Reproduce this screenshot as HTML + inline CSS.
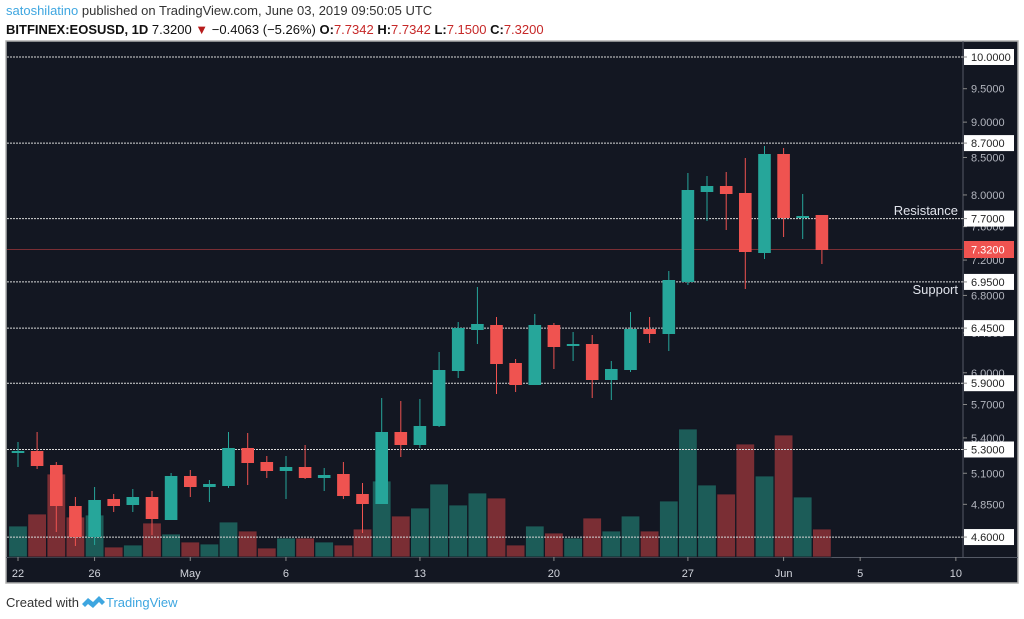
<!DOCTYPE html>
<html><head><meta charset="utf-8"><style>
body{margin:0;background:#fff;width:1024px;height:619px;overflow:hidden;font-family:"Liberation Sans",sans-serif}
svg{position:absolute;left:0;top:0}
</style></head><body>
<svg id="s" width="1024" height="619" xmlns="http://www.w3.org/2000/svg" font-family="Liberation Sans, sans-serif">
<text x="6" y="15" font-size="13" fill="#333"><tspan fill="#3ea6e0">satoshilatino</tspan> published on TradingView.com, June 03, 2019 09:50:05 UTC</text>
<text x="6" y="34" font-size="13" fill="#111"><tspan font-weight="bold">BITFINEX:EOSUSD, 1D</tspan> 7.3200 <tspan fill="#b71c1c">▼</tspan> −0.4063 (−5.26%) <tspan font-weight="bold">O:</tspan><tspan fill="#c62828">7.7342</tspan> <tspan font-weight="bold">H:</tspan><tspan fill="#c62828">7.7342</tspan> <tspan font-weight="bold">L:</tspan><tspan fill="#c62828">7.1500</tspan> <tspan font-weight="bold">C:</tspan><tspan fill="#c62828">7.3200</tspan></text>
<rect x="6" y="41" width="1012" height="542" fill="#131722" stroke="#b0b0b0" stroke-width="1.5"/>
<line x1="963" y1="41" x2="963" y2="557" stroke="#555a66"/>
<line x1="6" y1="557.5" x2="1018" y2="557.5" stroke="#555a66"/>
<g id="g"></g>
<text x="6" y="607" font-size="13" fill="#333">Created with</text>
<path d="M82 604 l6 -6 l5 4 l6 -6 l6 6 l-3 3 l-3 -3 l-6 6 l-5 -4 l-3 3z" fill="#3ea6e0"/>
<text x="106" y="607" font-size="13" fill="#3ea6e0">TradingView</text>
</svg>
<script>
var g=document.getElementById('g'),h='';
function Y(p){return 57+(Math.log(10)-Math.log(p))*618.2;}
// volumes first
var C=[
['g',442,451,453,467,526],['r',432,451,466,469,514],['r',462,465,506,532,474],['r',497,506,537,546,517],['g',487,500,537,545,515],
['r',494,499,506,512,547],['g',489,497,505,512,545],['r',491,497,519,535,523],['g',473,476,520,520,534],['r',470,476,487,497,542],
['g',480,484,487,502,544],['g',432,448,486,488,522],['r',433,448,463,485,531],['r',456,462,471,478,548],['g',456,467,471,499,538],
['r',445,467,478,479,538],['g',468,475,478,491,542],['r',462,474,496,499,545],['r',483,494,504,533,529],['g',398,432,504,504,481],
['r',401,432,445,457,516],['g',399,426,445,448,508],['g',352,370,426,427,484],['g',322,328,371,378,505],['g',287,324,330,344,493],
['r',317,325,364,394,498],['r',359,363,385,392,545],['g',314,325,385,385,526],['r',323,325,347,369,533],['g',332,344,346,361,538],
['r',335,344,380,398,518],['g',361,369,380,400,531],['g',312,329,370,372,516],['r',317,329,334,343,531],['g',271,280,334,351,501],
['g',173,190,282,285,429],['g',176,186,192,221,485],['r',172,186,194,230,494],['r',158,193,252,289,444],['g',146,154,253,259,476],
['r',148,154,218,237,435],['g',194,216,218,239,497],['r',215,215,250,264,529]];
function X(i){return 18+i*19.14;}
C.forEach(function(c,i){var x=X(i);h+='<rect x="'+(x-9.3).toFixed(1)+'" y="'+c[5]+'" width="18.6" height="'+(557-c[5])+'" fill="'+(c[0]=='g'?'#1c5c58':'#7a2e34')+'" stroke="#131722" stroke-width="0.8"/>';});
// grid dotted lines
[10,8.7,7.7,6.95,6.45,5.9,5.3,4.6].forEach(function(p){var y=Y(p).toFixed(1);h+='<line x1="7" x2="963" y1="'+y+'" y2="'+y+'" stroke="#d8d8d8" stroke-width="1" stroke-dasharray="2,1"/>';});
h+='<line x1="7" x2="963" y1="249.5" y2="249.5" stroke="#7a2e34" stroke-width="1"/>';
C.forEach(function(c,i){var x=X(i),col=c[0]=='g'?'#26a69a':'#ef5350';
h+='<line x1="'+x.toFixed(1)+'" x2="'+x.toFixed(1)+'" y1="'+c[1]+'" y2="'+c[4]+'" stroke="'+col+'" stroke-width="1"/>';
h+='<rect x="'+(x-6.3).toFixed(1)+'" y="'+c[2]+'" width="12.6" height="'+Math.max(2,c[3]-c[2])+'" fill="'+col+'"/>';});
// axis labels
[9.5,9,8.5,8,7.6,7.2,6.8,6.4,6,5.7,5.4,5.1,4.85].forEach(function(p){var y=Y(p);h+='<line x1="963" x2="967" y1="'+y+'" y2="'+y+'" stroke="#888"/><text x="971" y="'+(y+4)+'" font-size="11" fill="#b2b5be">'+p.toFixed(4)+'</text>';});
[10,8.7,7.7,6.95,6.45,5.9,5.3,4.6].forEach(function(p){var y=Y(p);h+='<rect x="964" y="'+(y-8)+'" width="50" height="16" fill="#fff"/><line x1="963" x2="967" y1="'+y+'" y2="'+y+'" stroke="#888"/><text x="971" y="'+(y+4)+'" font-size="11" fill="#222">'+p.toFixed(4)+'</text>';});
h+='<rect x="964" y="241" width="50" height="17" fill="#ef5350"/><text x="971" y="253.5" font-size="11" fill="#fff">7.3200</text>';
h+='<text x="958" y="215" font-size="13" fill="#e0e3eb" text-anchor="end">Resistance</text><text x="958" y="294" font-size="13" fill="#e0e3eb" text-anchor="end">Support</text>';
[['22',0],['26',4],['May',9],['6',14],['13',21],['20',28],['27',35],['Jun',40],['5',44],['10',49]].forEach(function(t){var x=X(t[1]);h+='<line x1="'+x+'" x2="'+x+'" y1="557" y2="561" stroke="#888"/><text x="'+x+'" y="577" font-size="11" fill="#d1d4dc" text-anchor="middle">'+t[0]+'</text>';});
g.innerHTML=h;
</script>
</body></html>
